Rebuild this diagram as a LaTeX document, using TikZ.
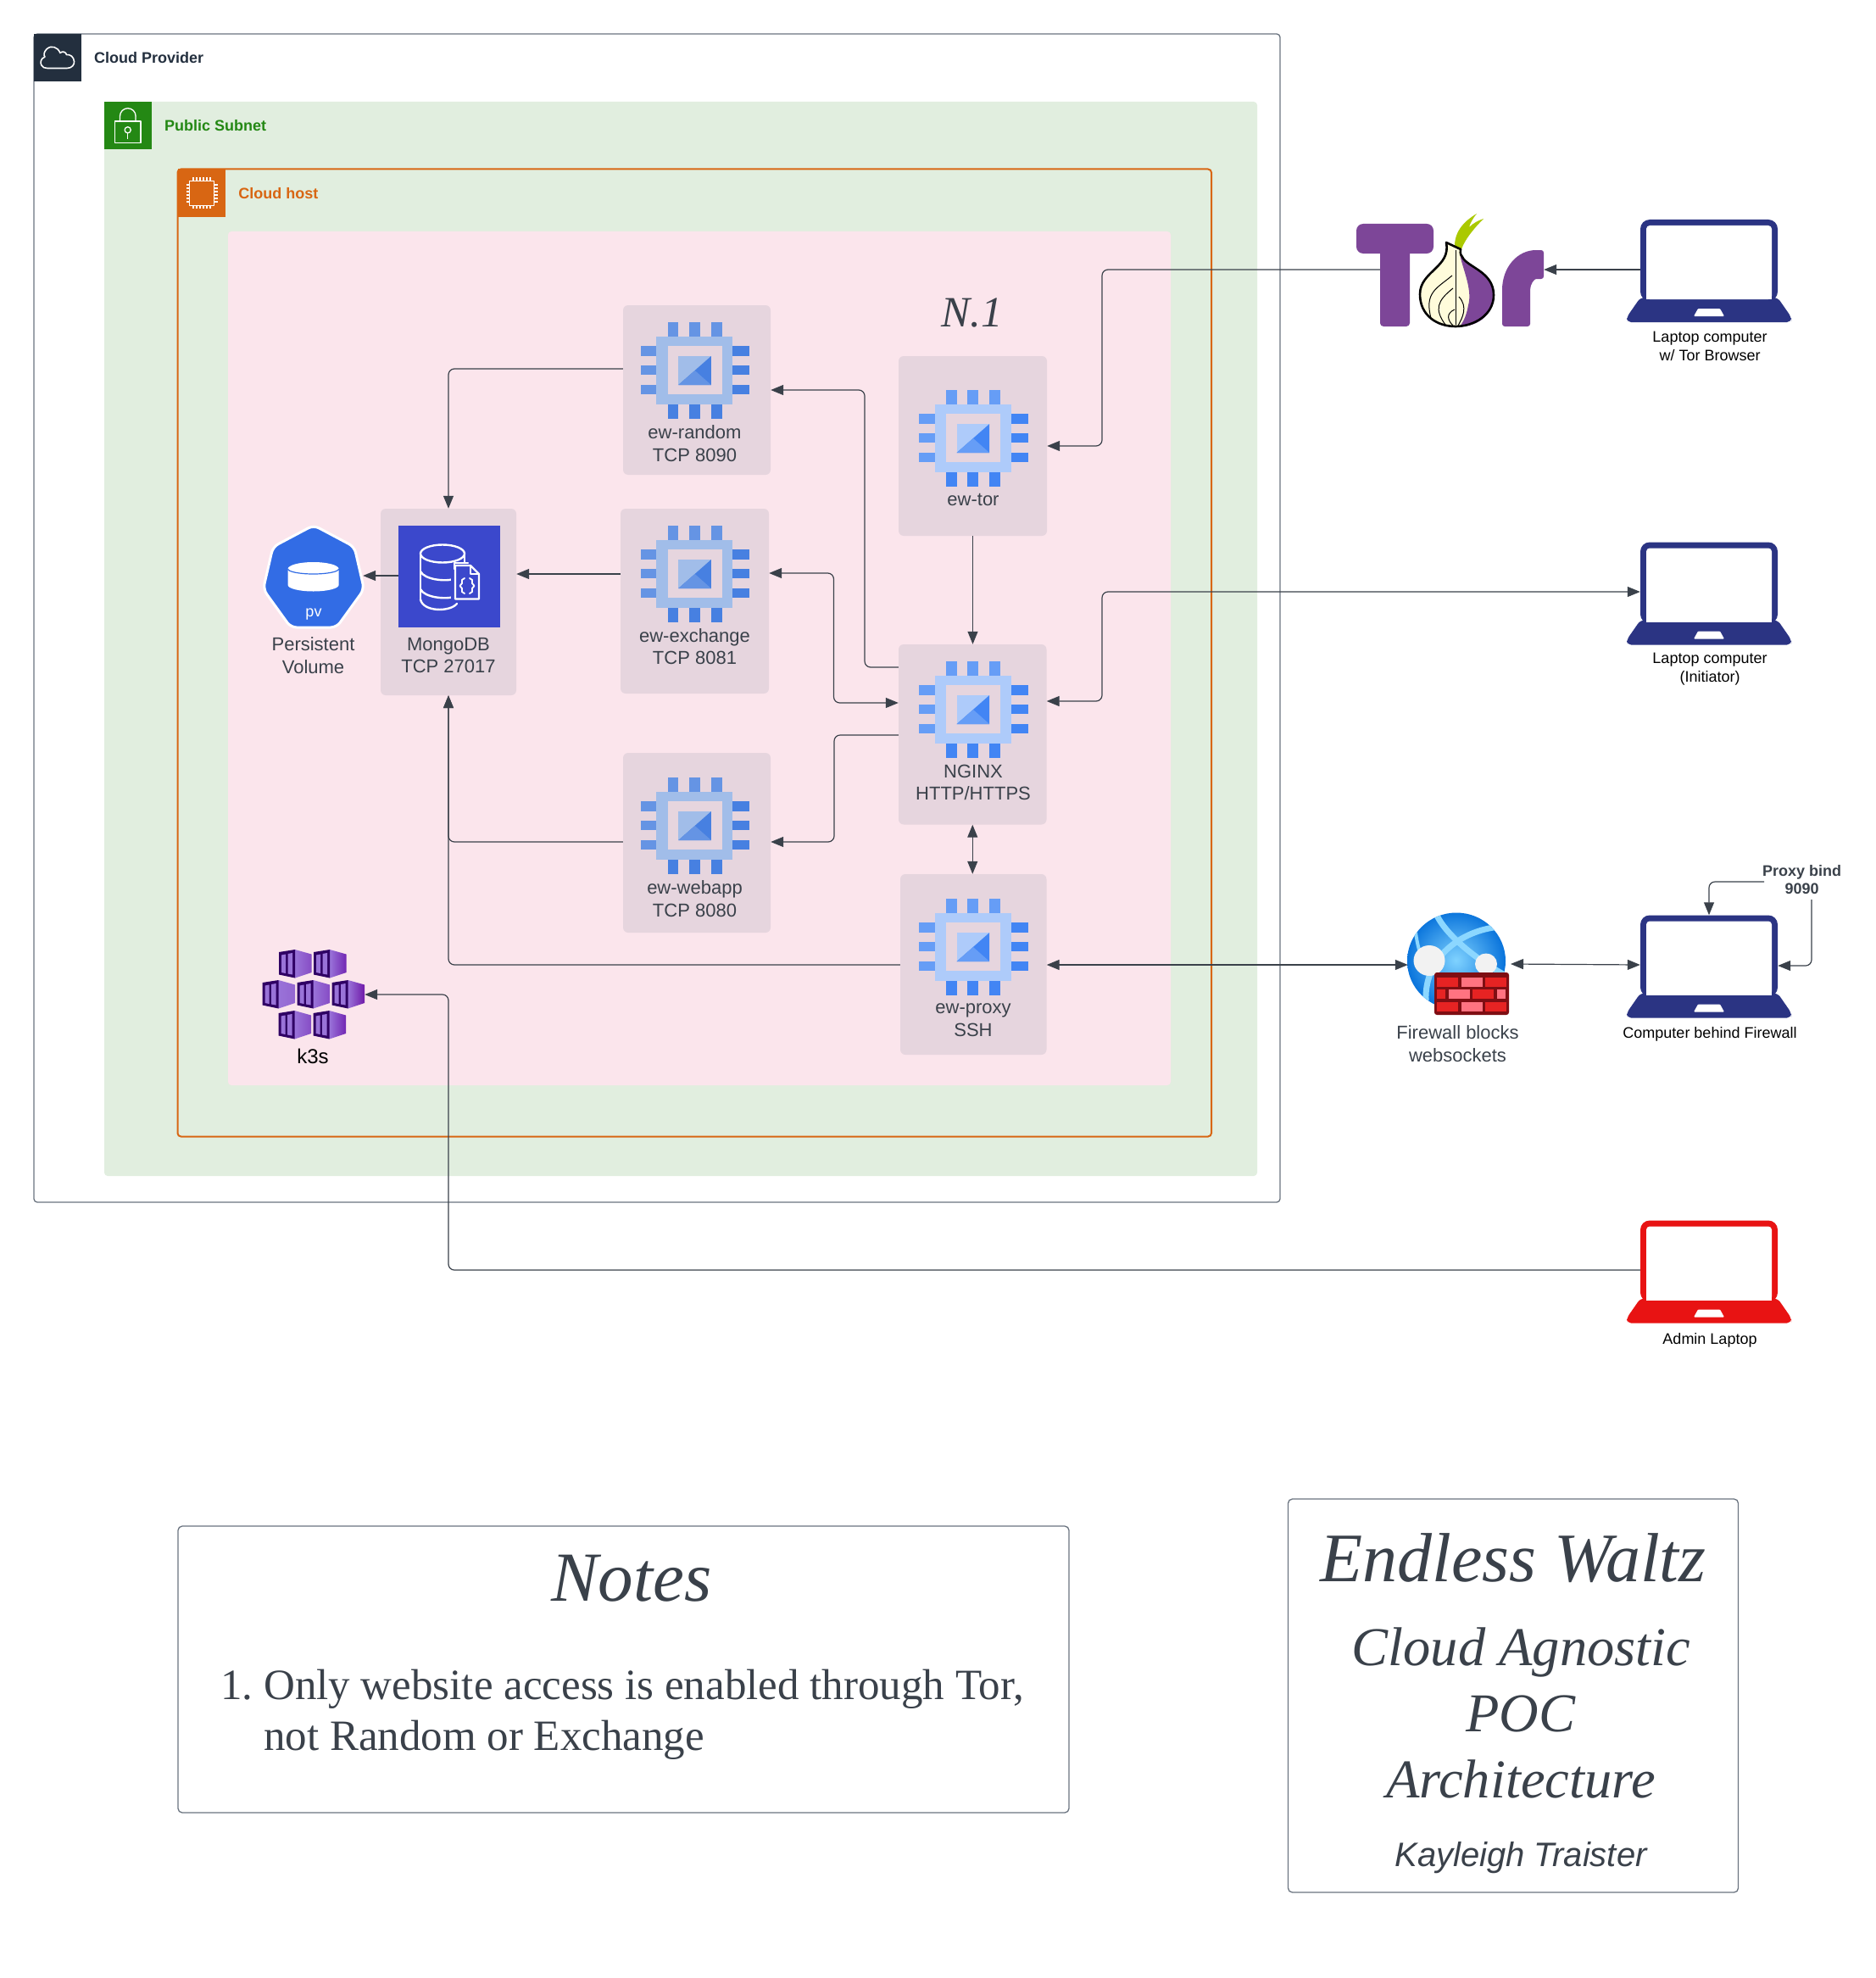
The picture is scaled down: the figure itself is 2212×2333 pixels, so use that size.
\documentclass[tikz,border=0pt]{standalone}
\usepackage{fontspec}
\setmainfont{Liberation Sans}
\newfontfamily\tserif{Liberation Serif}
\usetikzlibrary{arrows.meta,calc}
\definecolor{ink}{HTML}{3A414A}
\definecolor{provider}{HTML}{232F3E}
\definecolor{subnet}{HTML}{248814}
\definecolor{hostc}{HTML}{D86613}
\definecolor{subfill}{HTML}{E1EEDF}
\definecolor{pinkfill}{HTML}{FBE5EC}
\definecolor{svcfill}{HTML}{E6D5DE}
\definecolor{edgegray}{HTML}{6B7480}
\definecolor{lapblue}{HTML}{2B3483}
\definecolor{lapred}{HTML}{E81313}
\definecolor{torpurple}{HTML}{7D4698}
\definecolor{torgreen}{HTML}{ABC900}
\definecolor{mongoblue}{HTML}{3B48CC}
\definecolor{pvblue}{HTML}{326CE5}
\definecolor{mutedA}{HTML}{A1BDE9}
\definecolor{mutedB}{HTML}{6594E4}
\definecolor{mutedC}{HTML}{4780E1}
\definecolor{brightA}{HTML}{AECBFA}
\definecolor{brightB}{HTML}{669DF6}
\definecolor{brightC}{HTML}{4285F4}
\definecolor{brickdark}{HTML}{7F0E13}
\definecolor{brickred}{HTML}{E62323}
\definecolor{brickpink}{HTML}{FF7381}
\tikzset{
  x=1pt,y=-1pt,
  conn/.style={draw=ink,line width=1.2pt,rounded corners=7pt},
  arr/.style={conn,-{Triangle[length=15pt,width=12pt]}},
  biarr/.style={conn,{Triangle[length=15pt,width=12pt]}-{Triangle[length=15pt,width=12pt]}},
  svc/.style={fill=svcfill,rounded corners=6pt,inner sep=0pt},
  hole/.style={inner sep=0pt},
  lbl/.style={text=ink,align=center,inner sep=0pt,font=\fontsize{22}{26.7}\selectfont},
  lblk/.style={text=black,align=center,inner sep=0pt,font=\fontsize{18}{21.7}\selectfont},
  head/.style={anchor=west,inner sep=0pt,font=\fontsize{18}{22}\selectfont\bfseries},
  serifbig/.style={text=ink,inner sep=0pt,font=\fontsize{#1}{#1}\selectfont\tserif\itshape},
  iconline/.style={draw=white,line width=2pt,line join=round,line cap=round},
  frameline/.style={draw=edgegray,line width=1.3pt,rounded corners=5pt},
}
\newcommand\svcbox[5]{\node[svc,minimum width={(#4-#2)*1pt},minimum height={(#5-#3)*1pt}] (#1) at ({(#2+#4)/2},{(#3+#5)/2}) {};}
\newcommand\areabox[6]{\node[inner sep=0pt,rounded corners=4pt,#6,minimum width={(#4-#2)*1pt},minimum height={(#5-#3)*1pt}] (#1) at ({(#2+#4)/2},{(#3+#5)/2}) {};}
% chip icon: x,y of top-left, colours A (frame) B (top/left pins) C (right/bottom pins)
\newcommand\chipicon[5]{\begin{scope}[shift={(#1,#2)}]
 \fill[#3] (18.6,16.7) rectangle (108.6,96.7);
 \fill[svcfill] (31.8,28) rectangle (96.4,85.3);
 \foreach \a/\b in {31.8/44.6,57.1/70.4,82.9/96}{
   \fill[#4] (\a,0) rectangle (\b,16.7);
   \fill[#5] (\a,96.7) rectangle (\b,114);}
 \foreach \a/\b in {28/40,51/62.3,74/85.3}{
   \fill[#4] (0,\a) rectangle (18.6,\b);
   \fill[#5] (108.6,\a) rectangle (128.5,\b);}
 \fill[#3] (44.6,40) rectangle (83.2,74);
 \fill[#5] (44.6,74) -- (83.2,40) -- (83.2,74) -- cycle;
 \fill[#4] (44.6,74) -- (64,57) -- (83.2,74) -- cycle;
\end{scope}}
% laptop icon: centre x, top y, colour
\newcommand\lapicon[3]{\begin{scope}[shift={(#1,#2)}]
 \fill[#3,rounded corners=11pt] (-81,96) -- (-81,0) -- (81,0) -- (81,96) -- cycle;
 \fill[#3,rounded corners=5pt] (-81,92) -- (-97,115) -- (-97,121) -- (97,121) -- (97,115) -- (81,92) -- cycle;
 \fill[white,rounded corners=4pt] (-74,94) -- (-74,7) -- (74,7) -- (74,94) -- cycle;
 \fill[white] (-74,90) rectangle (74,94);
 \fill[white,rounded corners=1pt] (-18,114) -- (-13,105) -- (13,105) -- (18,114) -- cycle;
\end{scope}}
% k3s cube: x,y,left colour,right colour
\newcommand\kube[4]{\begin{scope}[shift={(#1,#2)}]
 \shade[left color=#3,right color=#4] (19,0) -- (38.5,5.5) -- (38.5,27) -- (19,33.5) -- cycle;
 \fill[black!25!violet!70!blue!70!black] (0,3) -- (19,0) -- (19,33.5) -- (0,29.5) -- cycle;
 \fill[#3] (3,6.5) -- (8,5.5) -- (8,28) -- (3,27) -- cycle;
 \fill[#3] (10.5,5) -- (16,4) -- (16,29.5) -- (10.5,28.5) -- cycle;
\end{scope}}
\begin{document}
\begin{tikzpicture}
\useasboundingbox (0,0) rectangle (2212,2333);
\fill[white] (0,0) rectangle (2212,2333);
% containers
\areabox{cloudbox}{40}{40}{1510}{1418}{draw=edgegray,line width=1.3pt,fill=white}
\areabox{subnetbox}{123}{120}{1483}{1387}{fill=subfill}
\areabox{hostbox}{209.5}{199.5}{1429}{1340.5}{draw=hostc,line width=2pt}
\areabox{podbox}{269}{273}{1381}{1280}{fill=pinkfill}
% header tiles
\fill[provider] (40,40) rectangle (96,96);
\fill[subnet] (123,120) rectangle (179,176);
\fill[hostc] (209.5,199) rectangle (266,256);
% cloud icon
\draw[iconline,line width=1.6pt] (56,80.5) -- (79,80.5) .. controls (85,80.5) and (88,76) .. (87.5,72.5) .. controls (87,67) and (83,64) .. (78.5,64.5) .. controls (78,61) and (73,60) .. (71,62.5) .. controls (68,55) and (60,53) .. (55,58) .. controls (52,61) and (51,65) .. (53,67) .. controls (48,69) and (47,74) .. (49,77) .. controls (50,79.5) and (53,80.5) .. (56,80.5) -- cycle;
% lock icon
\draw[iconline,line width=1.3pt,line cap=butt] (135.5,143) rectangle (166,168.5);
\draw[iconline,line width=1.3pt,line cap=butt] (141.5,143) -- (141.5,137) arc[start angle=180,end angle=0,x radius=9.3,y radius=-9.3] -- (160,143);
\draw[iconline,line width=1.3pt] (150.7,153.3) circle[radius=3.6];
\draw[iconline,line width=1.3pt] (150.7,157) -- (150.7,163.5);
% chip host icon
\draw[iconline,line width=1.6pt,line cap=butt] (223.5,213.5) rectangle (252.5,242.5);
\foreach \t in {0,1,2,3,4,5}{
 \draw[white,line width=1.2pt] ({228+\t*4},209.5) -- ({228+\t*4},213);
 \draw[white,line width=1.2pt] ({228+\t*4},243) -- ({228+\t*4},246.5);
 \draw[white,line width=1.2pt] (219.5,{218+\t*4}) -- (223,{218+\t*4});
 \draw[white,line width=1.2pt] (253,{218+\t*4}) -- (256.5,{218+\t*4});
}
\node[head,text=provider] (cloudtitle) at (111,68) {Cloud Provider};
\node[head,text=subnet] (subnettitle) at (194,148) {Public Subnet};
\node[head,text=hostc] (hosttitle) at (281.2,228) {Cloud host};
% service boxes
\svcbox{random}{735}{360}{909}{560}
\svcbox{etor}{1060}{420}{1235}{632}
\svcbox{exchange}{732}{600}{907}{818}
\svcbox{mongo}{449}{600}{609}{820}
\svcbox{webapp}{735}{888}{909}{1100}
\svcbox{nginx}{1060}{760}{1234.5}{972.5}
\svcbox{proxy}{1062}{1031}{1234.5}{1244}
% invisible anchors for pictured things
\node[hole,minimum width=120pt,minimum height=120pt] (mongoicon) at (530,680) {};
\node[hole,minimum width=116pt,minimum height=120pt] (pv) at (370,680) {};
\node[hole,minimum width=121pt,minimum height=101pt] (k3s) at (369.5,1170) {};
\node[hole,minimum width=35pt,minimum height=121pt] (torstem) at (1645.5,324.5) {};
\node[hole,minimum width=49pt,minimum height=90pt] (torr) at (1796.5,340) {};
\node[hole,minimum width=116pt,minimum height=120pt] (firewall) at (1719,1137) {};
\node[hole,minimum width=162pt,minimum height=121pt] (laptor) at (2016,319.5) {};
\node[hole,minimum width=162pt,minimum height=121pt] (lapinit) at (2016,700) {};
\node[hole,minimum width=162pt,minimum height=121pt] (lapfw) at (2016,1140) {};
\node[hole,minimum width=162pt,minimum height=121pt] (lapadmin) at (2016,1500) {};
% chips
\chipicon{755.7}{380}{mutedA}{mutedB}{mutedC}
\chipicon{755.7}{620}{mutedA}{mutedB}{mutedC}
\chipicon{755.7}{917}{mutedA}{mutedB}{mutedC}
\chipicon{1084}{460}{brightA}{brightB}{brightC}
\chipicon{1084}{780}{brightA}{brightB}{brightC}
\chipicon{1084}{1060}{brightA}{brightB}{brightC}
% mongo icon
\fill[mongoblue] (mongoicon.north west) rectangle (mongoicon.south east);
\begin{scope}[shift={(1,0)},iconline,line width=2.4pt]
 \draw (495,653) arc[start angle=180,end angle=-180,x radius=26,y radius=-10.5];
 \draw (495,653) -- (495,707);
 \draw (547,653) -- (547,664);
 \draw (495,674) .. controls (500,684) and (525,686) .. (534,683);
 \draw (495,695) .. controls (500,705) and (525,707) .. (534,704);
 \draw (495,707) .. controls (498,722) and (530,722) .. (538,712);
\end{scope}
\begin{scope}[shift={(1,0)}]
\fill[mongoblue] (531,667) rectangle (566,709);
\draw[iconline,line width=2.2pt] (535,671) -- (535,664) -- (551,664);
\draw[iconline,line width=2.2pt] (536,667) -- (554,667) -- (564,677) -- (564,706.5) -- (536,706.5) -- cycle;
\draw[iconline,line width=1.6pt] (554,668) -- (554,677) -- (563,677);
\draw[iconline,line width=1.9pt] (547,682) -- (544,684) -- (544,688) -- (541.5,691) -- (544,694) -- (544,698) -- (547,700);
\draw[iconline,line width=1.9pt] (553,682) -- (556,684) -- (556,688) -- (558.5,691) -- (556,694) -- (556,698) -- (553,700);
\end{scope}
% pv
\draw[draw=white,fill=pvblue,line width=3pt,rounded corners=7pt] (370,619.5) -- (418,645) -- (429.5,695) -- (397,740) -- (343,740) -- (310.5,695) -- (322,645) -- cycle;
\fill[white] (339.6,671) -- (339.6,690) arc[start angle=180,end angle=360,x radius=30,y radius=-7.5] -- (399.6,671) arc[start angle=0,end angle=180,x radius=30,y radius=-8] -- cycle;
\draw[pvblue,line width=1.2pt] (339.6,671) arc[start angle=180,end angle=360,x radius=30,y radius=-6];
\node[inner sep=0pt,text=white,font=\fontsize{18}{20}\selectfont] (pvtxt) at (370,725) {pv};
% k3s cubes
\kube{329}{1120}{violet!55!blue!55!white}{violet!65!blue!70!white}
\kube{370}{1120}{violet!55!blue!55!white}{violet!70!blue!85!white}
\kube{309.5}{1156}{violet!55!blue!55!white}{violet!60!blue!60!white}
\kube{350.5}{1156}{violet!55!blue!55!white}{violet!65!blue!70!white}
\kube{391.5}{1156}{violet!55!blue!55!white}{violet!75!blue!90!white}
\kube{328.5}{1192}{violet!55!blue!55!white}{violet!65!blue!70!white}
\kube{369.5}{1192}{violet!55!blue!55!white}{violet!70!blue!85!white}
% Tor logo
\fill[torpurple,rounded corners=8pt] (1600,264) -- (1691,264) -- (1691,299) -- (1600,299) -- cycle;
\fill[torpurple,rounded corners=4pt] (1628,290) -- (1663,290) -- (1663,385) -- (1628,385) -- cycle;
\fill[torpurple,rounded corners=3pt] (1772,385) -- (1772,345) .. controls (1772,315) and (1790,295) .. (1815,295) -- (1821,295) -- (1821,329) -- (1815,329) .. controls (1810,329) and (1805,335) .. (1805,345) -- (1805,385) -- cycle;
% onion
\fill[torgreen] (1716,293) .. controls (1715,275) and (1725,262) .. (1742,252) .. controls (1737,258) and (1734,264) .. (1733,268) .. controls (1738,263) and (1744,260) .. (1750,258) .. controls (1740,268) and (1728,282) .. (1724,294) -- cycle;
\path[fill={rgb,255:red,255;green,252;blue,219}] (1706,286) -- (1723,294) .. controls (1722,300) and (1724,302) .. (1725,303) .. controls (1730,315) and (1762,320) .. (1762,348) .. controls (1762,372) and (1738,385) .. (1717,385) .. controls (1695,385) and (1675,372) .. (1675,347) .. controls (1675,320) and (1712,315) .. (1706,286) -- cycle;
\fill[torpurple] (1722,297) .. controls (1722,310) and (1738,340) .. (1732,360) .. controls (1730,372) and (1726,380) .. (1722,385) .. controls (1745,385) and (1762,370) .. (1762,348) .. controls (1762,320) and (1730,315) .. (1725,303) -- cycle;
\draw[black,line width=2.6pt,line join=round] (1706,286) -- (1723,294) .. controls (1722,300) and (1724,302) .. (1725,303) .. controls (1730,315) and (1762,320) .. (1762,348) .. controls (1762,372) and (1738,385) .. (1717,385) .. controls (1695,385) and (1675,372) .. (1675,347) .. controls (1675,320) and (1712,315) .. (1706,286) -- cycle;
\draw[black,line width=.8pt] (1717,295) -- (1717,383);
\draw[black,line width=1pt] (1713,325) .. controls (1695,340) and (1680,345) .. (1688,375);
\draw[black,line width=1pt] (1714,340) .. controls (1695,355) and (1692,365) .. (1705,383);
\draw[black,line width=1pt] (1716,365) .. controls (1705,370) and (1708,378) .. (1714,384);
\draw[black,line width=1pt] (1721,350) .. controls (1732,362) and (1725,375) .. (1720,384);
% firewall globe
\begin{scope}
 \clip (1718,1133.5) ellipse[x radius=58,y radius=57];
 \shade[inner color=blue!35!cyan!50!white,outer color=blue!50!cyan!85!black] (1655,1070) rectangle (1780,1195);
 \draw[color=blue!35!cyan!45!white,line width=7pt] (1693,1075) .. controls (1700,1095) and (1730,1125) .. (1775,1150);
 \draw[color=blue!35!cyan!45!white,line width=7pt] (1772,1093) .. controls (1730,1095) and (1680,1125) .. (1682,1180);
 \draw[color=blue!35!cyan!45!white,line width=4pt] (1670,1100) .. controls (1672,1115) and (1675,1125) .. (1678,1130);
\end{scope}
\fill[black!5] (1686,1133) ellipse[x radius=18.5,y radius=18];
\fill[black!5] (1753,1137) ellipse[x radius=13,y radius=12.5];
\fill[brickdark,rounded corners=3pt] (1692,1147) rectangle (1780,1197);
\foreach \a/\b/\c in {1694.6/1719.5/brickred,1723.8/1748.7/brickpink,1751.7/1777/brickred}{
 \fill[\c] (\a,1152.7) rectangle (\b,1164);
 \fill[\c] (\a,1181.7) rectangle (\b,1192.7);}
\foreach \a/\b/\c in {1694.6/1705/brickred,1709.2/1734.1/brickpink,1737.2/1762/brickred,1765.5/1776.2/brickpink}{
 \fill[\c] (\a,1167) rectangle (\b,1178);}
% laptops
\lapicon{2016}{259}{lapblue}
\lapicon{2016}{639.5}{lapblue}
\lapicon{2016}{1079.5}{lapblue}
\lapicon{2016}{1439.5}{lapred}
% connectors
\draw[arr] (torstem.west |- 0,318) -- (1300,318) -- (1300,526) -- (etor.east |- 0,526);
\draw[arr] (laptor.west |- 0,318) -- (torr.east |- 0,318);
\draw[biarr] (nginx.east |- 0,827) -- (1300,827) -- (1300,698) -- (lapinit.west |- 0,698);
\draw[arr] (etor.south) -- (nginx.north -| etor.south);
\draw[biarr] (nginx.south) -- (proxy.north -| nginx.south);
\draw[arr] (nginx.west |- 0,787) -- (1020,787) -- (1020,460) -- (random.east |- 0,460);
\draw[biarr] (nginx.west |- 0,829) -- (983.5,829) -- (983.5,676) -- (exchange.east |- 0,676);
\draw[arr] (nginx.west |- 0,867) -- (984,867) -- (984,993) -- (webapp.east |- 0,993);
\draw[arr] (exchange.west |- 0,677) -- (mongo.east |- 0,677);
\draw[arr] (mongoicon.west |- 0,679) -- (pv.east |- 0,679);
\draw[arr] (random.west |- 0,435) -- (mongo.north |- 0,435) -- (mongo.north);
\draw[arr] (webapp.west |- 0,993) -- (mongo.south |- 0,993) -- (mongo.south);
\draw[arr] (proxy.west |- 0,1138) -- (mongo.south |- 0,1138) -- (mongo.south);
\draw[biarr] (proxy.east |- 0,1138) -- (firewall.west |- 0,1138);
\draw[biarr] (1782,1137) -- (lapfw.west |- 0,1138);
\draw[arr] (lapadmin.west |- 0,1498) -- (mongo.south |- 0,1498) -- (mongo.south |- 0,1173) -- (k3s.east |- 0,1173);
\coordinate (bindleft) at (2081,1040);
\coordinate (bindbelow) at (2137,1061);
\draw[arr] (bindleft) -- (lapfw.north |- bindleft) -- (lapfw.north);
\draw[arr] (bindbelow) -- (2137,1139) -- (lapfw.east |- 0,1139);
% service labels
\node[lbl] (t1) at (819.5,523) {ew-random\\TCP 8090};
\node[lbl] (t2) at (1148,589) {ew-tor};
\node[lbl] (t3) at (819.5,762.5) {ew-exchange\\TCP 8081};
\node[lbl] (t4) at (529,773) {MongoDB\\TCP 27017};
\node[lbl] (t5) at (369.5,773) {Persistent\\Volume};
\node[lbl] (t6) at (819.5,1060) {ew-webapp\\TCP 8080};
\node[lbl] (t7) at (1148,923) {NGINX\\HTTP/HTTPS};
\node[lbl] (t8) at (1148,1203.5) {ew-proxy\\SSH};
\node[lbl,text=black,font=\fontsize{24}{28}\selectfont] (t9) at (369,1246) {k3s};
\node[lbl] (t10) at (1719.5,1231) {Firewall blocks\\websockets};
\node[lblk] (t11) at (2017,408.5) {Laptop computer\\w/ Tor Browser};
\node[lblk] (t12) at (2017,789.5) {Laptop computer\\(Initiator)};
\node[lblk] (t13) at (2017,1220) {Computer behind Firewall};
\node[lblk] (t14) at (2017,1581) {Admin Laptop};
\node[lblk,text=ink,font=\fontsize{18}{21}\selectfont\bfseries] (t15) at (2125.5,1037.5) {Proxy bind\\9090};
\node[serifbig=51] (n1) at (1147,369) {N.1};
% notes
\node[frameline,inner sep=0pt,minimum width=1051pt,minimum height=338pt] (notesbox) at (735.5,1969) {};
\node[serifbig=83] (notestitle) at (745,1862) {Notes};
\node[anchor=west,inner sep=0pt,text=ink,font=\fontsize{51}{51}\selectfont\tserif] (note1) at (260,1992) {\makebox[51pt][l]{1.}Only website access is enabled through Tor,};
\node[anchor=west,inner sep=0pt,text=ink,font=\fontsize{51}{51}\selectfont\tserif] (note2) at (311,2052.5) {not Random or Exchange};
% title
\node[frameline,inner sep=0pt,minimum width=531pt,minimum height=464pt] (titlebox) at (1785,2000) {};
\node[serifbig=82] (title1) at (1785,1838) {Endless Waltz};
\node[serifbig=64.5] (title2) at (1794.5,1949) {Cloud Agnostic};
\node[serifbig=64.5] (title3) at (1794,2021) {POC};
\node[serifbig=64.5] (title4) at (1794,2098) {Architecture};
\node[inner sep=0pt,text=ink,font=\fontsize{40}{40}\selectfont\itshape] (title5) at (1794,2191) {Kayleigh Traister};
\end{tikzpicture}
\end{document}
